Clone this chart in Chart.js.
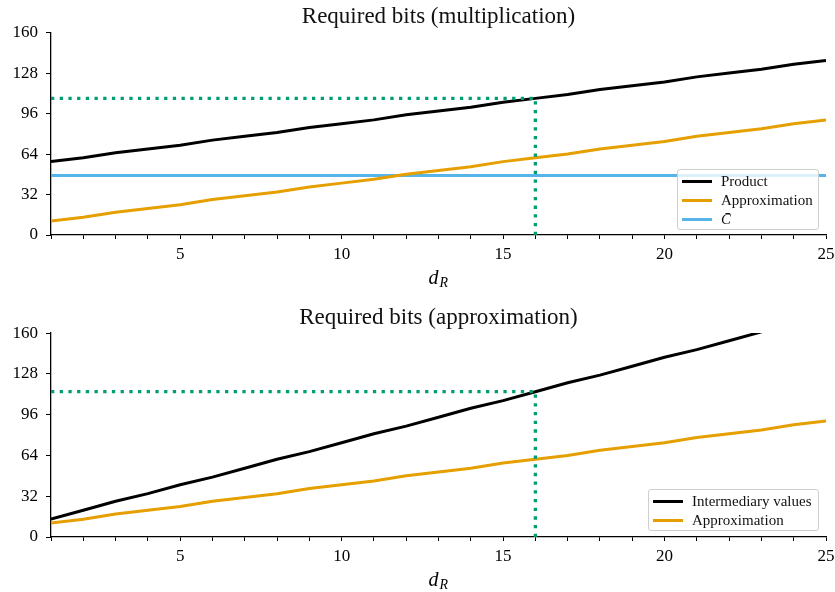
<!DOCTYPE html>
<html>
<head>
<meta charset="utf-8">
<script src="https://cdn.jsdelivr.net/npm/chart.js@4.4.1/dist/chart.umd.min.js"></script>
<style>
  body { margin: 0; background: #fff; }
  #wrap { position: relative; width: 835px; height: 592px; }
  canvas { display: block; }
  .legend {
    position: absolute;
    background: rgba(255, 255, 255, 0.8);
    border: 1px solid #cfcfcf;
    border-radius: 3px;
    box-sizing: border-box;
    font-family: "Liberation Serif", serif;
    font-size: 15px;
    color: #111;
    padding: 2px 0 0 4px;
  }
  .legend .row { display: flex; align-items: center; height: 19px; }
  .legend .sw { width: 30px; height: 3px; margin-right: 9px; }
</style>
</head>
<body>
<div id="wrap">
  <canvas id="topChart" width="835" height="300"></canvas>
  <canvas id="bottomChart" width="835" height="292"></canvas>
  <div class="legend" id="legendTop" style="left:677px; top:169px; width:142px; height:61px;"></div>
  <div class="legend" id="legendBottom" style="left:648px; top:489px; width:171px; height:42px;"></div>
</div>
<script>
// データ (d_R = 1..25)
const dR = [1, 2, 3, 4, 5, 6, 7, 8, 9, 10, 11, 12, 13, 14, 15, 16, 17, 18, 19, 20, 21, 22, 23, 24, 25];
const productBits = [58, 61, 65, 68, 71, 75, 78, 81, 85, 88, 91, 95, 98, 101, 105, 108, 111, 115, 118, 121, 125, 128, 131, 135, 138];
const approxBits = [11, 14, 18, 21, 24, 28, 31, 34, 38, 41, 44, 48, 51, 54, 58, 61, 64, 68, 71, 74, 78, 81, 84, 88, 91];
const intermediaryBits = [14, 21, 28, 34, 41, 47, 54, 61, 67, 74, 81, 87, 94, 101, 107, 114, 121, 127, 134, 141, 147, 154, 161, 167, 174];
const cBar = 47;
// 点線マーカー (d_R = 16)
const markerX = 16;
const markerTop = 108;
const markerBottom = 114;
// 目盛り
const yTicks = [0, 32, 64, 96, 128, 160];
const xTickLabels = [5, 10, 15, 20, 25];
const titles = ['Required bits (multiplication)', 'Required bits (approximation)'];

const BLACK = '#000000';
const ORANGE = '#E69F00';
const BLUE = '#56B4E9';
const GREEN = '#009E73';
const FONT = '"Liberation Serif", serif';

Chart.defaults.font.family = FONT;
Chart.defaults.color = '#000';

function toPoints(values) {
  return dR.map((x, i) => ({ x: x, y: values[i] }));
}

function markerData(yValue) {
  return [{ x: dR[0], y: yValue }, { x: markerX, y: yValue }, { x: markerX, y: 0 }];
}

// x軸ラベル d_R を描く
const axisLabelPlugin = {
  id: 'axisLabel',
  afterDraw(chart) {
    const ctx = chart.ctx;
    const area = chart.chartArea;
    const cx = (area.left + area.right) / 2;
    const base = area.bottom + 49;
    ctx.save();
    ctx.fillStyle = '#000';
    ctx.textBaseline = 'alphabetic';
    ctx.font = 'italic 20px ' + FONT;
    ctx.fillText('d', cx - 10, base);
    ctx.font = 'italic 14px ' + FONT;
    ctx.fillText('R', cx + 1, base + 3);
    ctx.restore();
  }
};

function makeOptions(title, titlePad, xHeight) {
  return {
    responsive: false,
    animation: false,
    devicePixelRatio: 1,
    layout: { padding: { left: 0, right: 9, top: 0, bottom: 0 } },
    plugins: {
      legend: { display: false },
      tooltip: { enabled: false },
      title: {
        display: true,
        text: title,
        fullSize: false,
        color: '#111',
        font: { family: FONT, size: 23, weight: 'normal', lineHeight: 1.2 },
        padding: titlePad
      }
    },
    scales: {
      x: {
        type: 'linear',
        min: 1,
        max: 25,
        afterFit(scale) {
          scale.height = xHeight;
          // 右端のラベル分の余白はレイアウト側で確保する
          scale.paddingRight = 0;
          scale.paddingLeft = 0;
        },
        afterBuildTicks(scale) {
          scale.ticks = dR.map(v => ({ value: v }));
        },
        ticks: {
          autoSkip: false,
          maxRotation: 0,
          padding: 5,
          font: { family: FONT, size: 17 },
          callback: v => (xTickLabels.includes(v) ? String(v) : '')
        },
        grid: { drawOnChartArea: false, drawTicks: true, tickLength: 4, color: '#000', tickWidth: 1 },
        border: { display: true, color: '#000', width: 1.3 }
      },
      y: {
        min: 0,
        max: 160,
        afterFit(scale) { scale.width = 51; },
        afterBuildTicks(scale) {
          scale.ticks = yTicks.map(v => ({ value: v }));
        },
        ticks: {
          padding: 8,
          font: { family: FONT, size: 17 }
        },
        grid: { drawOnChartArea: false, drawTicks: true, tickLength: 5, color: '#000', tickWidth: 1 },
        border: { display: true, color: '#000', width: 1.3 }
      }
    }
  };
}

function lineSet(label, data, color, order) {
  return {
    label: label,
    data: data,
    borderColor: color,
    backgroundColor: color,
    borderWidth: 3,
    pointRadius: 0,
    tension: 0,
    fill: false,
    order: order
  };
}

function dottedSet(data) {
  return {
    label: 'marker',
    data: data,
    borderColor: GREEN,
    borderWidth: 3.3,
    borderDash: [3.3, 5.4],
    borderCapStyle: 'butt',
    pointRadius: 0,
    tension: 0,
    fill: false,
    order: 0
  };
}

// 上のグラフ
new Chart(document.getElementById('topChart').getContext('2d'), {
  type: 'line',
  data: {
    datasets: [
      dottedSet(markerData(markerTop)),
      lineSet('Product', toPoints(productBits), BLACK, 1),
      lineSet('Approximation', toPoints(approxBits), ORANGE, 2),
      lineSet('C\u0304', [{ x: dR[0], y: cBar }, { x: dR[dR.length - 1], y: cBar }], BLUE, 3)
    ]
  },
  options: makeOptions(titles[0], { top: 3, bottom: 2 }, 65),
  plugins: [axisLabelPlugin]
});

// 下のグラフ
new Chart(document.getElementById('bottomChart').getContext('2d'), {
  type: 'line',
  data: {
    datasets: [
      dottedSet(markerData(markerBottom)),
      lineSet('Intermediary values', toPoints(intermediaryBits), BLACK, 1),
      lineSet('Approximation', toPoints(approxBits), ORANGE, 2)
    ]
  },
  options: makeOptions(titles[1], { top: 4, bottom: 1.5 }, 55),
  plugins: [axisLabelPlugin]
});

// 凡例 (グラフ内の右下)
function buildLegend(id, items) {
  const box = document.getElementById(id);
  items.forEach(item => {
    const row = document.createElement('div');
    row.className = 'row';
    const sw = document.createElement('span');
    sw.className = 'sw';
    sw.style.background = item.color;
    const txt = document.createElement('span');
    txt.textContent = item.label;
    if (item.italic) txt.style.fontStyle = 'italic';
    row.appendChild(sw);
    row.appendChild(txt);
    box.appendChild(row);
  });
}

buildLegend('legendTop', [
  { label: 'Product', color: BLACK },
  { label: 'Approximation', color: ORANGE },
  { label: 'C\u0304', color: BLUE, italic: true }
]);
buildLegend('legendBottom', [
  { label: 'Intermediary values', color: BLACK },
  { label: 'Approximation', color: ORANGE }
]);
</script>
</body>
</html>
